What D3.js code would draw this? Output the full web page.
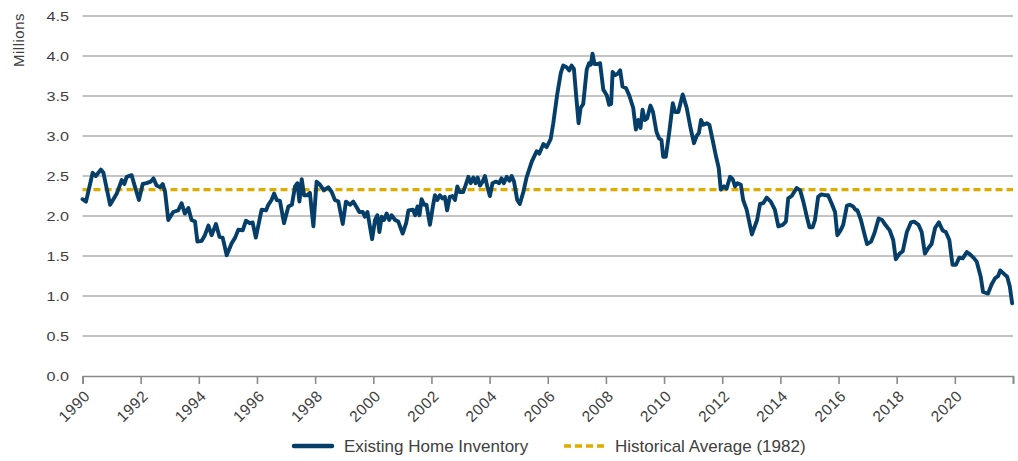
<!DOCTYPE html>
<html>
<head>
<meta charset="utf-8">
<script src="https://cdn.jsdelivr.net/npm/d3@7"></script>
<style>
  html, body { margin: 0; padding: 0; background: #fff; }
  svg { display: block; }
  text { font-family: "Liberation Sans", Arial, sans-serif; fill: #404040; }
</style>
</head>
<body>
<svg id="chart" width="1018" height="461"></svg>
<script>
// ---- Data ----
const periods = [
1990.00,1990.12,1990.35,1990.46,1990.63,1990.72,1990.95,1991.18,1991.35,1991.44,1991.52,1991.69,1991.80,1991.94,
1992.07,1992.20,1992.35,1992.44,1992.55,1992.67,1992.76,1992.84,1992.95,1993.12,1993.29,1993.41,1993.52,1993.64,
1993.75,1993.87,1993.95,1994.10,1994.21,1994.33,1994.44,1994.59,1994.71,1994.82,1994.96,1995.13,1995.25,1995.36,
1995.51,1995.62,1995.76,1995.85,1995.96,1996.16,1996.31,1996.39,1996.50,1996.59,1996.68,1996.79,1996.93,1997.08,
1997.20,1997.31,1997.39,1997.46,1997.54,1997.62,1997.74,1997.82,1997.94,1998.05,1998.17,1998.30,1998.45,1998.57,
1998.68,1998.80,1998.95,1999.06,1999.20,1999.31,1999.43,1999.52,1999.64,1999.71,1999.80,1999.87,1999.96,2000.06,
2000.14,2000.21,2000.29,2000.37,2000.46,2000.55,2000.63,2000.75,2000.86,2001.01,2001.13,2001.21,2001.36,2001.44,
2001.52,2001.59,2001.66,2001.75,2001.83,2001.95,2002.05,2002.12,2002.20,2002.29,2002.38,2002.46,2002.54,2002.63,
2002.72,2002.81,2002.89,2002.97,2003.09,2003.17,2003.27,2003.35,2003.44,2003.52,2003.59,2003.67,2003.76,2003.84,
2003.92,2004.01,2004.10,2004.22,2004.33,2004.41,2004.49,2004.59,2004.68,2004.76,2004.84,2004.95,2005.04,2005.16,
2005.27,2005.45,2005.62,2005.71,2005.85,2005.96,2006.10,2006.19,2006.33,2006.45,2006.53,2006.65,2006.74,2006.82,
2006.90,2006.99,2007.06,2007.13,2007.22,2007.34,2007.42,2007.48,2007.54,2007.61,2007.71,2007.80,2007.91,2008.03,
2008.11,2008.18,2008.23,2008.32,2008.41,2008.49,2008.57,2008.69,2008.80,2008.94,2009.03,2009.11,2009.19,2009.26,
2009.34,2009.42,2009.53,2009.62,2009.74,2009.83,2009.91,2009.97,2010.06,2010.18,2010.30,2010.38,2010.49,2010.64,
2010.78,2010.91,2011.03,2011.12,2011.20,2011.27,2011.35,2011.47,2011.56,2011.67,2011.79,2011.88,2011.95,2012.06,
2012.15,2012.27,2012.36,2012.44,2012.52,2012.64,2012.72,2012.84,2013.02,2013.20,2013.30,2013.41,2013.53,2013.67,
2013.81,2013.93,2014.08,2014.19,2014.27,2014.39,2014.56,2014.68,2014.79,2014.91,2015.00,2015.11,2015.19,2015.30,
2015.41,2015.53,2015.64,2015.76,2015.88,2015.96,2016.07,2016.16,2016.29,2016.39,2016.50,2016.58,2016.65,2016.77,
2016.86,2016.98,2017.12,2017.24,2017.38,2017.50,2017.61,2017.76,2017.88,2017.97,2018.10,2018.21,2018.35,2018.49,
2018.60,2018.75,2018.86,2018.97,2019.09,2019.20,2019.32,2019.45,2019.58,2019.69,2019.81,2019.92,2020.04,2020.15,
2020.27,2020.41,2020.52,2020.64,2020.75,2020.89,2020.97,2021.14,2021.26,2021.38,2021.49,2021.56,2021.68,2021.80,
2021.89,2021.97
];
const inventory = [
2.21,2.18,2.54,2.50,2.58,2.54,2.14,2.28,2.45,2.40,2.49,2.51,2.37,2.20,
2.40,2.41,2.43,2.47,2.38,2.36,2.40,2.30,1.95,2.05,2.07,2.16,2.03,2.10,
1.95,1.93,1.68,1.69,1.76,1.88,1.76,1.90,1.74,1.73,1.51,1.66,1.73,1.83,
1.82,1.94,1.91,1.92,1.73,2.08,2.07,2.14,2.20,2.28,2.20,2.19,1.91,2.12,
2.14,2.37,2.41,2.18,2.46,2.26,2.26,2.29,1.87,2.43,2.39,2.32,2.36,2.30,
2.20,2.18,1.90,2.18,2.14,2.18,2.11,2.05,2.05,1.99,2.05,1.90,1.71,1.95,
2.01,1.80,1.99,1.95,2.03,1.95,2.01,1.95,1.93,1.78,1.91,2.07,2.08,2.01,
2.12,2.01,2.21,2.14,2.14,1.89,2.12,2.26,2.20,2.26,2.22,2.24,2.07,2.24,
2.25,2.20,2.37,2.30,2.30,2.38,2.49,2.41,2.48,2.41,2.48,2.38,2.43,2.50,
2.37,2.25,2.41,2.43,2.41,2.47,2.41,2.49,2.44,2.50,2.43,2.20,2.15,2.30,
2.48,2.68,2.81,2.78,2.90,2.86,2.96,3.16,3.53,3.79,3.88,3.86,3.82,3.88,
3.84,3.45,3.16,3.35,3.40,3.83,3.91,3.89,4.03,3.90,3.90,3.91,3.58,3.51,
3.39,3.40,3.80,3.76,3.78,3.82,3.62,3.60,3.51,3.35,3.08,3.20,3.10,3.33,
3.20,3.22,3.38,3.30,3.05,2.97,2.95,2.74,2.74,3.05,3.41,3.30,3.30,3.52,
3.35,3.10,2.91,3.00,3.04,3.20,3.14,3.16,3.14,2.95,2.74,2.60,2.33,2.37,
2.34,2.49,2.46,2.37,2.41,2.39,2.20,2.08,1.77,1.95,2.15,2.16,2.23,2.18,
2.08,1.87,1.89,1.93,2.22,2.25,2.35,2.32,2.18,1.99,1.86,1.86,1.95,2.24,
2.27,2.26,2.26,2.16,2.05,1.76,1.82,1.89,2.13,2.14,2.12,2.08,2.07,1.95,
1.82,1.65,1.68,1.79,1.97,1.95,1.89,1.82,1.70,1.46,1.53,1.56,1.80,1.92,
1.93,1.89,1.80,1.53,1.60,1.65,1.85,1.92,1.82,1.80,1.70,1.39,1.39,1.48,
1.47,1.55,1.52,1.48,1.43,1.24,1.05,1.03,1.14,1.22,1.25,1.32,1.28,1.24,
1.12,0.91
];
const historicalAverage = 2.33;
const yTicks = [0, 0.5, 1, 1.5, 2, 2.5, 3, 3.5, 4, 4.5];
const xTickYears = [1990,1992,1994,1996,1998,2000,2002,2004,2006,2008,2010,2012,2014,2016,2018,2020,2022];
const xLabelYears = [1990,1992,1994,1996,1998,2000,2002,2004,2006,2008,2010,2012,2014,2016,2018,2020];
const seriesNames = ["Existing Home Inventory", "Historical Average (1982)"];
const yTitle = "Millions";

// ---- Layout ----
const svg = d3.select("#chart");
const plotLeft = 82.5, plotRight = 1013, plotTop = 16, plotBottom = 376;
const x = d3.scaleLinear().domain([1990, 2022]).range([plotLeft, plotRight]);
const y = d3.scaleLinear().domain([0, 4.5]).range([plotBottom, plotTop]);

const navy = "#053f69";
const gold = "#dfab00";
const gridColor = "#8a8a8a";

// gridlines
svg.append("g")
  .selectAll("line")
  .data(yTicks.filter(d => d > 0))
  .join("line")
  .attr("x1", plotLeft).attr("x2", plotRight)
  .attr("y1", d => y(d)).attr("y2", d => y(d))
  .attr("stroke", gridColor).attr("stroke-width", 1.2);

// y labels
svg.append("g")
  .selectAll("text")
  .data(yTicks)
  .join("text")
  .attr("transform", d => `translate(69,${y(d)}) scale(1.2,1)`)
  .attr("dy", "0.36em")
  .attr("text-anchor", "end")
  .style("font-size", "13.5px")
  .text(d => d3.format(".1f")(d));

// y title
svg.append("text")
  .attr("transform", "translate(24,40) rotate(-90)")
  .attr("text-anchor", "middle")
  .style("font-size", "15px")
  .style("letter-spacing", "0.5px")
  .text(yTitle);

// x axis via d3 axis
const xAxis = d3.axisBottom(x)
  .tickValues(xTickYears)
  .tickSize(8)
  .tickFormat(d => xLabelYears.includes(d) ? String(d) : "");
const gx = svg.append("g").attr("transform", `translate(0,${plotBottom})`).call(xAxis);
gx.select(".domain").attr("stroke", gridColor).attr("stroke-width", 1.6);
gx.selectAll(".tick line").attr("stroke", gridColor).attr("stroke-width", 1.6);
gx.selectAll(".tick text")
  .attr("y", 0).attr("dy", 0)
  .attr("transform", "translate(8,21) rotate(-45)")
  .attr("text-anchor", "end")
  .style("font-size", "15.5px")
  .style("letter-spacing", "0.6px")
  .style("font-family", "'Liberation Sans', Arial, sans-serif")
  .attr("fill", "#404040");

// historical average dashed line
svg.append("line")
  .attr("x1", plotLeft).attr("x2", plotRight)
  .attr("y1", y(historicalAverage)).attr("y2", y(historicalAverage))
  .attr("stroke", gold).attr("stroke-width", 3.2)
  .attr("stroke-dasharray", "7,4");

// inventory line
const line = d3.line()
  .x((d, i) => x(periods[i]))
  .y(d => y(d));
svg.append("path")
  .datum(inventory)
  .attr("d", line)
  .attr("fill", "none")
  .attr("stroke", navy)
  .attr("stroke-width", 3.9)
  .attr("stroke-linejoin", "round")
  .attr("stroke-linecap", "round");

// legend
const lg = svg.append("g");
lg.append("line").attr("x1", 294).attr("x2", 332).attr("y1", 446).attr("y2", 446)
  .attr("stroke", navy).attr("stroke-width", 4.5).attr("stroke-linecap", "round");
lg.append("text").attr("x", 344).attr("y", 446).attr("dy", "0.35em")
  .style("font-size", "17px").text(seriesNames[0]);
lg.append("line").attr("x1", 564).attr("x2", 604).attr("y1", 446).attr("y2", 446)
  .attr("stroke", gold).attr("stroke-width", 3.6).attr("stroke-dasharray", "7,4");
lg.append("text").attr("x", 615).attr("y", 446).attr("dy", "0.35em")
  .style("font-size", "17px").text(seriesNames[1]);
</script>
</body>
</html>
